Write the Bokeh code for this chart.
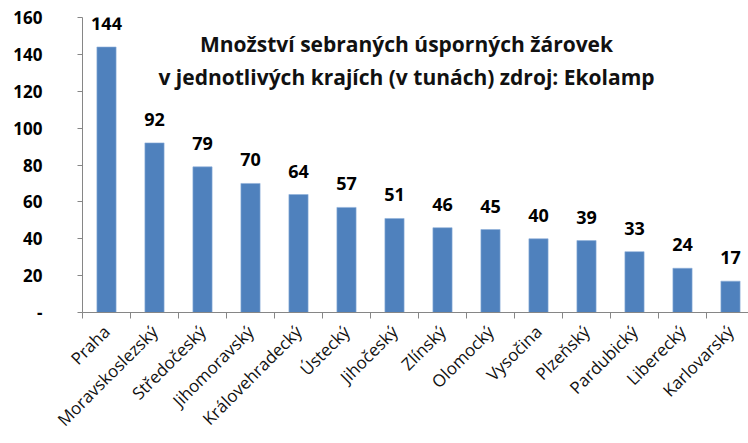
import numpy as np
from bokeh.plotting import figure
from bokeh.models import Range1d, FixedTicker, ColumnDataSource, LabelSet, Label
from bokeh.core.properties import value
from bokeh.embed import file_html
from bokeh.resources import INLINE
import math

categories = ["Praha", "Moravskoslezský", "Středočeský", "Jihomoravský", "Královehradecký",
              "Ústecký", "Jihočeský", "Zlínský", "Olomocký", "Vysočina", "Plzeňský",
              "Pardubický", "Liberecký", "Karlovarský"]
values = [144, 92, 79, 70, 64, 57, 51, 46, 45, 40, 39, 33, 24, 17]
y_ticks = [0, 20, 40, 60, 80, 100, 120, 140, 160]
y_tick_labels = ["-", "20", "40", "60", "80", "100", "120", "140", "160"]
title_lines = ["Množství sebraných úsporných žárovek",
               "v jednotlivých krajích (v tunách) zdroj: Ekolamp"]

n = len(categories)
xs = [i + 0.5 for i in range(n)]
src = ColumnDataSource(dict(x=xs, top=values, lab=[str(v) for v in values]))

FONT = "Open Sans"

# plot area continues slightly past the right edge of the picture (as in the reference)
p = figure(width=748, height=443, output_backend="svg", toolbar_location=None,
           x_range=Range1d(0, n - 0.125), y_range=Range1d(0, 160),
           min_border_left=82, min_border_right=0, min_border_top=17, min_border_bottom=131)
p.outline_line_color = None
p.xgrid.grid_line_color = None
p.ygrid.grid_line_color = None

p.vbar(x="x", top="top", width=0.4, bottom=0, source=src,
       fill_color="#4F81BD", line_color="#8FB0DA", line_width=0.6)

labels = LabelSet(x="x", y="top", text="lab", source=src, text_align="center",
                  text_baseline="alphabetic", y_offset=17, text_font=value(FONT),
                  text_font_style="bold", text_font_size="18px", text_color="#000000")
p.add_layout(labels)

# x axis
p.xaxis.ticker = FixedTicker(ticks=xs, minor_ticks=list(range(n + 1)))
p.xaxis.major_label_overrides = {x: c for x, c in zip(xs, categories)}
p.xaxis.major_label_orientation = math.pi / 4
p.xaxis.major_tick_out = 0
p.xaxis.major_tick_in = 0
p.xaxis.minor_tick_out = 6
p.xaxis.minor_tick_in = 0
p.xaxis.minor_tick_line_color = "#868686"
p.xaxis.axis_line_color = "#868686"
p.xaxis.major_label_text_font = FONT
p.xaxis.major_label_text_font_size = "17px"
p.xaxis.major_label_text_color = "#111111"
p.xaxis.major_label_standoff = 10

# y axis
p.yaxis.ticker = FixedTicker(ticks=y_ticks, minor_ticks=[])
p.yaxis.major_label_overrides = {t: l for t, l in zip(y_ticks, y_tick_labels)}
p.yaxis.major_tick_out = 5
p.yaxis.major_tick_in = 0
p.yaxis.major_tick_line_color = "#868686"
p.yaxis.axis_line_color = "#868686"
p.yaxis.major_label_text_font = FONT
p.yaxis.major_label_text_font_style = "bold"
p.yaxis.major_label_text_font_size = "17px"
p.yaxis.major_label_text_color = "#000000"
p.yaxis.major_label_standoff = 35

for line, yy in zip(title_lines, [145.4, 127.6]):
    p.add_layout(Label(x=6.75, y=yy, text=line, text_align="center",
                       text_baseline="alphabetic", text_font=FONT,
                       text_font_style="bold", text_font_size="21px",
                       text_color="#111111"))

open("out.html", "w").write(file_html(p, INLINE))
